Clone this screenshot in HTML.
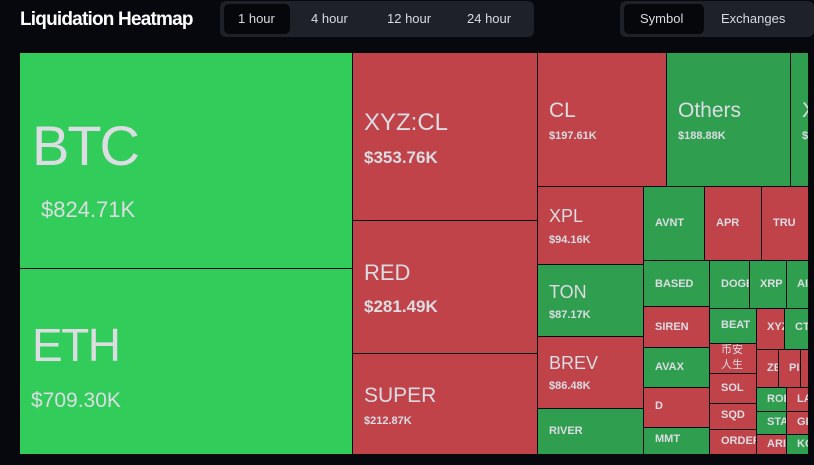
<!DOCTYPE html>
<html><head><meta charset="utf-8"><style>
body{margin:0;width:814px;height:465px;background:#06080d;overflow:hidden;font-family:"Liberation Sans","Noto Sans CJK SC",sans-serif;position:relative}
.t{position:absolute;box-sizing:border-box;border-right:1px solid #0a0a0a;border-bottom:1px solid #0a0a0a;overflow:hidden;color:#dcdde3;white-space:nowrap}
.g{background:#2f9e4f}.r{background:#c0434a}.G{background:#31cc5a}
.n{position:absolute;left:11px;font-weight:bold;font-size:11px}
.btn{position:absolute;color:#d8dbe0;font-size:13px}
</style></head><body>
<div style="position:absolute;left:20px;top:9px;color:#fff;font-weight:bold;font-size:19px;letter-spacing:-0.8px">Liquidation Heatmap</div>
<div style="position:absolute;left:220px;top:1px;width:314px;height:36px;background:#1e2228;border-radius:6px"></div>
<div style="position:absolute;left:224px;top:4px;width:66px;height:30px;background:#05070a;border-radius:5px"></div>
<div class="btn" style="left:238px;top:11px">1 hour</div>
<div class="btn" style="left:311px;top:11px">4 hour</div>
<div class="btn" style="left:387px;top:11px">12 hour</div>
<div class="btn" style="left:467px;top:11px">24 hour</div>
<div style="position:absolute;left:620px;top:1px;width:194px;height:36px;background:#1e2228;border-radius:6px"></div>
<div style="position:absolute;left:624px;top:4px;width:80px;height:30px;background:#05070a;border-radius:5px"></div>
<div class="btn" style="left:640px;top:11px">Symbol</div>
<div class="btn" style="left:721px;top:11px">Exchanges</div>

<div style="position:absolute;left:20px;top:53px;width:789px;height:402px;background:#0a0a0a"></div>
<div class="t G" style="left:20px;top:53px;width:333px;height:216px"><div style="position:absolute;left:12px;top:60px;font-size:56px;letter-spacing:-2px">BTC</div><div style="position:absolute;left:21px;top:144px;font-size:22px">$824.71K</div></div>
<div class="t G" style="left:20px;top:269px;width:333px;height:186px"><div style="position:absolute;left:12px;top:49px;font-size:46px;letter-spacing:-1.5px">ETH</div><div style="position:absolute;left:11px;top:120px;font-size:21px">$709.30K</div></div>
<div class="t r" style="left:353px;top:53px;width:185px;height:168px"><div style="position:absolute;left:11px;top:56px;font-size:24px">XYZ:CL</div><div style="position:absolute;left:11px;top:95px;font-size:17px;font-weight:bold">$353.76K</div></div>
<div class="t r" style="left:353px;top:221px;width:185px;height:133px"><div style="position:absolute;left:11px;top:39px;font-size:22px">RED</div><div style="position:absolute;left:11px;top:76px;font-size:17px;font-weight:bold">$281.49K</div></div>
<div class="t r" style="left:353px;top:354px;width:185px;height:101px"><div style="position:absolute;left:11px;top:30px;font-size:21px">SUPER</div><div style="position:absolute;left:11px;top:61px;font-size:11px;font-weight:bold">$212.87K</div></div>
<div class="t r" style="left:538px;top:53px;width:129px;height:134px"><div style="position:absolute;left:11px;top:46px;font-size:21px">CL</div><div style="position:absolute;left:11px;top:77px;font-size:11px;font-weight:bold">$197.61K</div></div>
<div class="t g" style="left:667px;top:53px;width:124px;height:134px"><div style="position:absolute;left:11px;top:46px;font-size:21px">Others</div><div style="position:absolute;left:11px;top:77px;font-size:11px;font-weight:bold">$188.88K</div></div>
<div class="t g" style="left:791px;top:53px;width:18px;height:134px"><div style="position:absolute;left:11px;top:46px;font-size:21px">X</div><div style="position:absolute;left:11px;top:77px;font-size:11px;font-weight:bold">$</div></div>
<div class="t r" style="left:538px;top:187px;width:106px;height:78px"><div style="position:absolute;left:11px;top:19px;font-size:18px">XPL</div><div style="position:absolute;left:11px;top:47px;font-size:11px;font-weight:bold">$94.16K</div></div>
<div class="t g" style="left:538px;top:265px;width:106px;height:72px"><div style="position:absolute;left:11px;top:17px;font-size:18px">TON</div><div style="position:absolute;left:11px;top:44px;font-size:11px;font-weight:bold">$87.17K</div></div>
<div class="t r" style="left:538px;top:337px;width:106px;height:72px"><div style="position:absolute;left:11px;top:16px;font-size:18px">BREV</div><div style="position:absolute;left:11px;top:43px;font-size:11px;font-weight:bold">$86.48K</div></div>
<div class="t g" style="left:538px;top:409px;width:106px;height:46px"><div class="n" style="top:16px">RIVER</div></div>
<div class="t g" style="left:644px;top:187px;width:61px;height:74px"><div class="n" style="top:30px">AVNT</div></div>
<div class="t r" style="left:705px;top:187px;width:57px;height:74px"><div class="n" style="top:30px">APR</div></div>
<div class="t r" style="left:762px;top:187px;width:47px;height:74px"><div class="n" style="top:30px">TRU</div></div>
<div class="t g" style="left:644px;top:261px;width:66px;height:46px"><div class="n" style="top:17px">BASED</div></div>
<div class="t g" style="left:710px;top:261px;width:40px;height:48px"><div class="n" style="top:17px">DOGE</div></div>
<div class="t g" style="left:750px;top:261px;width:37px;height:48px"><div class="n" style="left:10px;top:17px">XRP</div></div>
<div class="t g" style="left:787px;top:261px;width:22px;height:48px"><div class="n" style="left:10px;top:17px">AI</div></div>
<div class="t r" style="left:644px;top:307px;width:66px;height:41px"><div class="n" style="top:14px">SIREN</div></div>
<div class="t g" style="left:644px;top:348px;width:66px;height:40px"><div class="n" style="top:13px">AVAX</div></div>
<div class="t r" style="left:644px;top:388px;width:66px;height:40px"><div class="n" style="top:12px">D</div></div>
<div class="t g" style="left:644px;top:428px;width:66px;height:27px"><div class="n" style="top:5px">MMT</div></div>
<div class="t g" style="left:710px;top:309px;width:47px;height:35px"><div class="n" style="top:10px">BEAT</div></div>
<div class="t r" style="left:710px;top:344px;width:47px;height:30px"><div class="n" style="top:-1px;line-height:15px;font-weight:normal">币安<br>人生</div></div>
<div class="t r" style="left:710px;top:374px;width:47px;height:30px"><div class="n" style="top:8px">SOL</div></div>
<div class="t r" style="left:710px;top:404px;width:47px;height:26px"><div class="n" style="top:5px">SQD</div></div>
<div class="t r" style="left:710px;top:430px;width:47px;height:25px"><div class="n" style="top:5px">ORDER</div></div>
<div class="t r" style="left:757px;top:309px;width:28px;height:41px"><div class="n" style="left:10px;top:12px">XYZ</div></div>
<div class="t g" style="left:785px;top:309px;width:24px;height:41px"><div class="n" style="left:10px;top:12px">CT</div></div>
<div class="t r" style="left:757px;top:350px;width:22px;height:38px"><div class="n" style="left:10px;top:12px">ZE</div></div>
<div class="t r" style="left:779px;top:350px;width:22px;height:38px"><div class="n" style="left:10px;top:12px">PI</div></div>
<div class="t r" style="left:801px;top:350px;width:8px;height:38px"></div>
<div class="t g" style="left:757px;top:388px;width:30px;height:24px"><div class="n" style="left:10px;top:5px">ROB</div></div>
<div class="t r" style="left:787px;top:388px;width:22px;height:24px"><div class="n" style="left:10px;top:5px">LA</div></div>
<div class="t g" style="left:757px;top:412px;width:30px;height:23px"><div class="n" style="left:10px;top:4px">STA</div></div>
<div class="t r" style="left:787px;top:412px;width:22px;height:23px"><div class="n" style="left:10px;top:4px">GI</div></div>
<div class="t r" style="left:757px;top:435px;width:30px;height:20px"><div class="n" style="left:10px;top:3px">ARI</div></div>
<div class="t g" style="left:787px;top:435px;width:22px;height:20px"><div class="n" style="left:10px;top:3px">KO</div></div>
</body></html>
